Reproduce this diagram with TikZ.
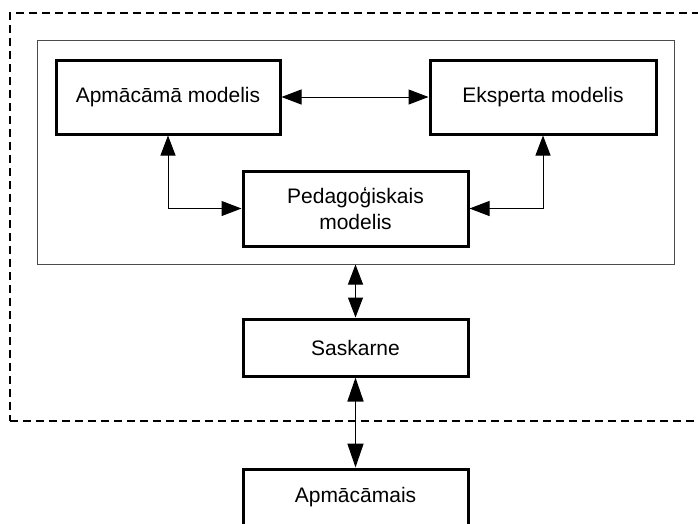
\documentclass[tikz,border=0pt]{standalone}
\usepackage{fontspec}
\setmainfont{Liberation Sans}
\usetikzlibrary{arrows.meta}
\begin{document}
\begin{tikzpicture}[x=1pt,y=-1pt,
  font=\fontsize{21}{26}\selectfont,
  module/.style={draw, line width=3pt, rectangle, align=center, inner sep=0pt},
  link/.style={line width=1pt, {Triangle[length=20pt,width=15pt]}-{Triangle[length=20pt,width=15pt]}},
  flow/.style={line width=1.6pt, {Triangle[length=24pt,width=16pt]}-{Triangle[length=24pt,width=16pt]}}]
  \useasboundingbox (0,0) rectangle (698,523);
  \clip (0,0) rectangle (698,523);
  % system boundary (dashed) and the tutor core (thin frame)
  \node[draw, line width=2pt, dash pattern=on 8pt off 5pt, minimum width=700pt, minimum height=408pt, inner sep=0pt] (system) at (360,217) {};
  \node[draw=black!70, line width=1pt, minimum width=637pt, minimum height=224pt, inner sep=0pt] (core) at (355.5,152) {};
  % modules
  \node[module, minimum width=224pt, minimum height=74pt] (learner) at (168,97) {Apmācāmā modelis};
  \node[module, minimum width=226pt, minimum height=74pt] (expert) at (543,97) {Eksperta modelis};
  \node[module, minimum width=225pt, minimum height=75pt] (pedagogy) at (355.5,208.5) {Pedagoģiskais\\modelis};
  \node[module, minimum width=225pt, minimum height=57pt] (iface) at (355.5,347.5) {Saskarne};
  \node[module, minimum width=225pt, minimum height=57pt] (student) at (355.5,497.5) {Apmācāmais};
  % connections
  \draw[link] (learner.east) -- (expert.west);
  \draw[link] (learner.south) |- (pedagogy.west);
  \draw[link] (expert.south) |- (pedagogy.east);
  \draw[link] (iface.north |- core.south) -- (iface.north);
  \draw[flow] (iface.south) -- (student.north);
\end{tikzpicture}
\end{document}
